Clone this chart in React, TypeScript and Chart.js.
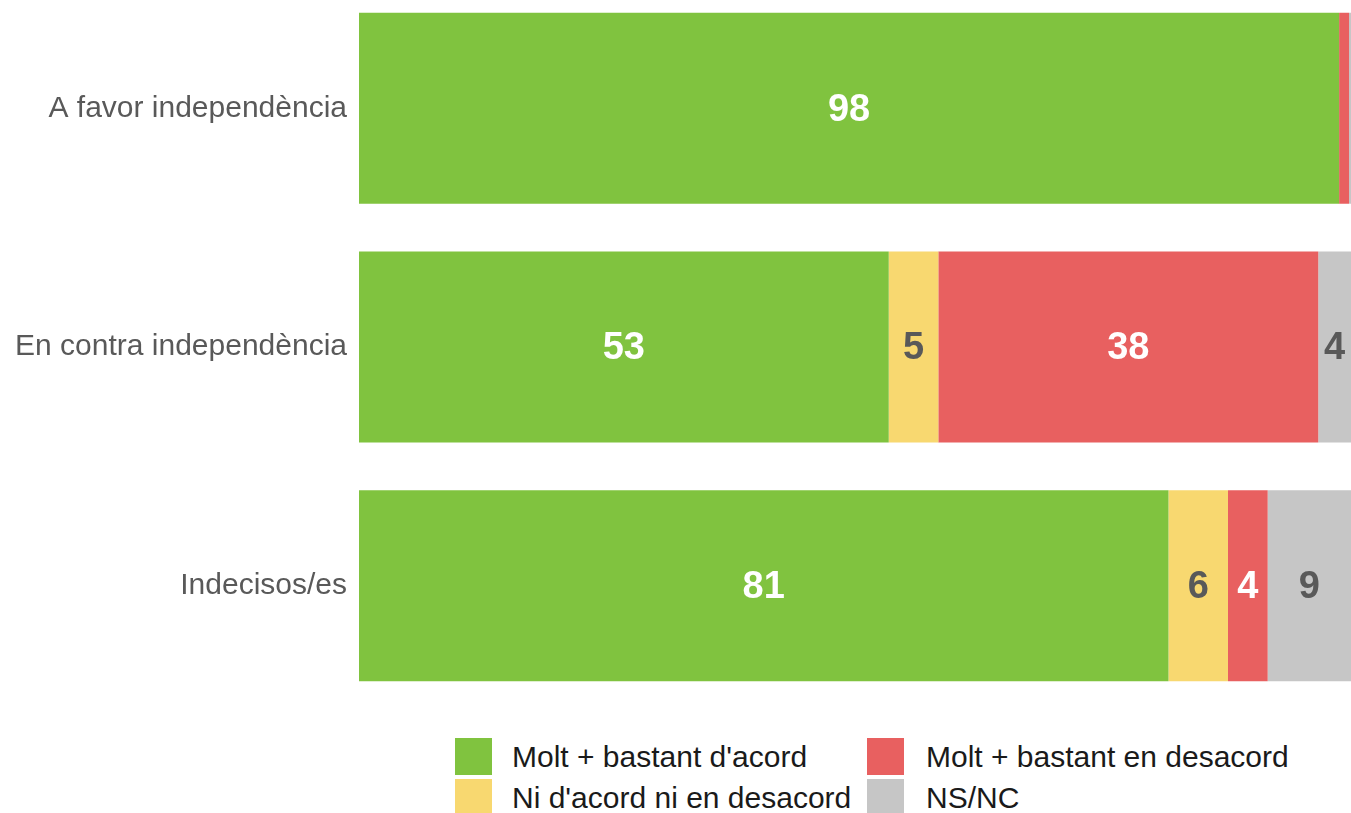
import React, { useEffect, useRef } from "react";
import { Chart, registerables } from "chart.js";

Chart.register(...registerables);

const categories = ["A favor independència", "En contra independència", "Indecisos/es"];
const acord = [98.8, 53.4, 81.6];
const ni = [0, 5.0, 6.0];
const desacord = [1.0, 38.3, 4.0];
const nsnc = [0.2, 3.3, 8.4];
const acordLabels = ["98", "53", "81"];
const niLabels = ["", "5", "6"];
const desacordLabels = ["", "38", "4"];
const nsncLabels = ["", "4", "9"];
const seriesNames = ["Molt + bastant d'acord", "Ni d'acord ni en desacord", "Molt + bastant en desacord", "NS/NC"];
const colors = ["#80C33F", "#F8D870", "#E86060", "#C6C6C6"];
const labelColors = ["#FFFFFF", "#595959", "#FFFFFF", "#595959"];

const FONT = "'Liberation Sans', Arial, sans-serif";

const dataLabelPlugin = {
  id: "dataLabels",
  afterDatasetsDraw(chart: any) {
    const ctx = chart.ctx;
    const allLabels = [acordLabels, niLabels, desacordLabels, nsncLabels];
    ctx.save();
    ctx.font = `bold 38px ${FONT}`;
    ctx.textAlign = "center";
    ctx.textBaseline = "middle";
    chart.data.datasets.forEach((ds: any, di: number) => {
      const meta = chart.getDatasetMeta(di);
      meta.data.forEach((el: any, i: number) => {
        const txt = allLabels[di][i];
        if (!txt) return;
        const x = (el.x + el.base) / 2;
        ctx.fillStyle = labelColors[di];
        ctx.fillText(txt, x, el.y + 2);
      });
    });
    ctx.restore();
  },
};

export default function App() {
  const ref = useRef<HTMLCanvasElement>(null);
  useEffect(() => {
    if (!ref.current) return;
    const values = [acord, ni, desacord, nsnc];
    const chart = new Chart(ref.current, {
      type: "bar",
      data: {
        labels: categories,
        datasets: values.map((v, i) => ({
          label: seriesNames[i],
          data: v,
          backgroundColor: colors[i],
          borderWidth: 0,
          categoryPercentage: 0.8,
          barPercentage: 1,
        })),
      },
      options: {
        indexAxis: "y",
        animation: false,
        responsive: true,
        maintainAspectRatio: false,
        layout: { padding: 0 },
        plugins: { legend: { display: false }, tooltip: { enabled: false } },
        scales: {
          x: { stacked: true, min: 0, max: 100, display: false },
          y: {
            stacked: true,
            grid: { display: false, drawTicks: false },
            border: { display: false },
            ticks: { color: "#595959", font: { family: FONT, size: 30 }, padding: 12 },
            afterFit: (scale: any) => {
              scale.width = 359;
            },
          },
        },
      },
      plugins: [dataLabelPlugin],
    } as any);
    return () => chart.destroy();
  }, []);

  const legendOrder = [
    [0, 455, 738, 20],
    [1, 455, 779, 20],
    [2, 867, 738, 22],
    [3, 867, 779, 22],
  ];

  return (
    <div style={{ position: "absolute", left: 0, top: 0, width: 1351, height: 813, overflow: "hidden", background: "#fff" }}>
      <div style={{ position: "absolute", left: 0, top: -41, width: 1351, height: 776 }}>
        <canvas ref={ref} />
      </div>
      {legendOrder.map(([i, x, y, gap]) => (
        <div key={i} style={{ position: "absolute", left: x, top: y, height: 37, display: "flex", alignItems: "center" }}>
          <div style={{ width: 37, height: 37, background: colors[i] }} />
          <span style={{ marginLeft: gap, fontFamily: FONT, fontSize: 30, color: "#1A1A1A", whiteSpace: "nowrap", lineHeight: "37px" }}>
            {seriesNames[i]}
          </span>
        </div>
      ))}
    </div>
  );
}
